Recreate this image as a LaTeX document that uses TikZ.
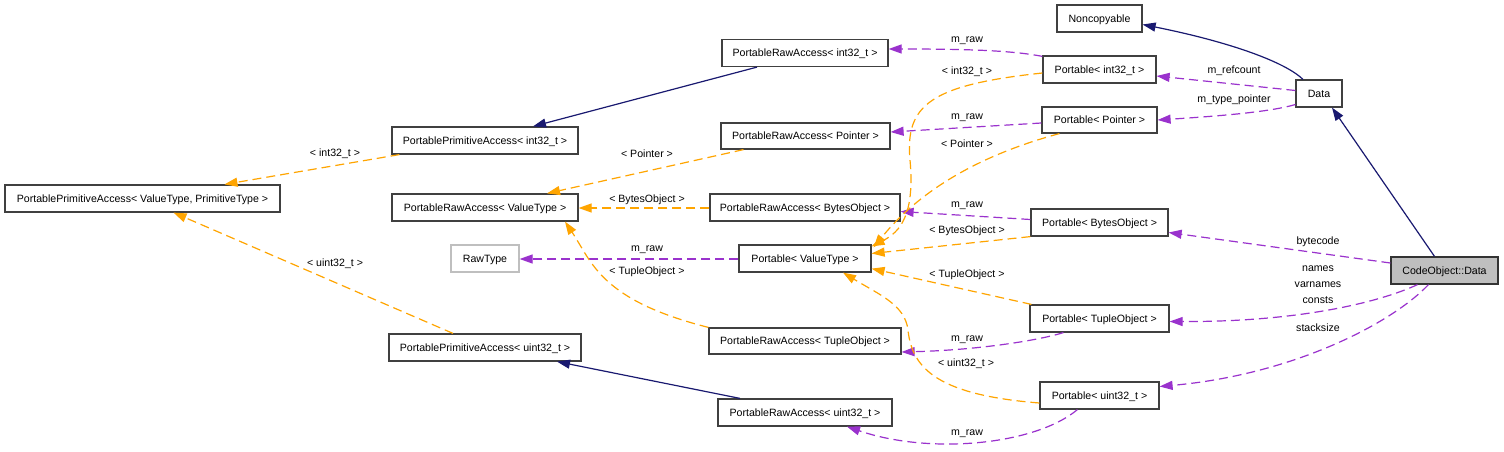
\documentclass[tikz,border=0pt]{standalone}
\usepackage{fontspec}
\setmainfont{Liberation Sans}
\usetikzlibrary{arrows.meta,calc}
\definecolor{dblue}{HTML}{191970}
\definecolor{dorange}{HTML}{FFA500}
\definecolor{dpurple}{HTML}{9A32CD}
\definecolor{dgrey}{HTML}{BFBFBF}
\tikzset{
  box/.style={draw=black!75, line width=1.2pt, inner sep=0pt, minimum height=27pt,
    font=\fontsize{10.6}{12}\selectfont, text height=7.6pt, text depth=0pt, fill=white},
  lbl/.style={inner sep=0pt, font=\fontsize{10.6}{12}\selectfont, text height=7.6pt, text depth=0pt},
  tipA/.style={-{Triangle[length=13pt,width=9pt]}},
  inh/.style={draw=dblue, line width=1.2pt, tipA},
  tmpl/.style={draw=dorange, line width=1.2pt, dash pattern=on 9pt off 5pt, tipA},
  usee/.style={draw=dpurple, line width=1.2pt, dash pattern=on 9pt off 5pt, tipA},
}
\begin{document}
\begin{tikzpicture}[x=1pt,y=-1pt]
\fill[white] (0,0) rectangle (1504,452);
\useasboundingbox (0,0) rectangle (1504,452);

% nodes
\node[box, minimum width=275pt] (ppavt) at (142.5,198.5) {PortablePrimitiveAccess< ValueType, PrimitiveType >};
\node[box, minimum width=186pt] (ppaint) at (485,140.5) {PortablePrimitiveAccess< int32\_t >};
\node[box, minimum width=166pt] (praint) at (805,53) {PortableRawAccess< int32\_t >};
\node[box, minimum width=169pt, minimum height=26pt] (prapt) at (805.5,136) {PortableRawAccess< Pointer >};
\node[box, minimum width=186pt] (pravt) at (485,207.5) {PortableRawAccess< ValueType >};
\node[box, minimum width=190pt] (prabo) at (805,207.5) {PortableRawAccess< BytesObject >};
\node[box, draw=dgrey, minimum width=68pt] (rawtype) at (485,258.5) {RawType};
\node[box, minimum width=132pt] (pvt) at (805,258.5) {Portable< ValueType >};
\node[box, minimum width=192pt, minimum height=26pt] (prato) at (805,341) {PortableRawAccess< TupleObject >};
\node[box, minimum width=192pt] (ppau) at (485,347.5) {PortablePrimitiveAccess< uint32\_t >};
\node[box, minimum width=174pt] (prau) at (805,412.5) {PortableRawAccess< uint32\_t >};
\node[box, minimum width=85pt] (noncp) at (1099.5,18.5) {Noncopyable};
\node[box, minimum width=113pt] (pint) at (1099.5,69.5) {Portable< int32\_t >};
\node[box, minimum width=46pt] (data) at (1319,93.5) {Data};
\node[box, minimum width=115pt, minimum height=26pt] (ppt) at (1099.5,120) {Portable< Pointer >};
\node[box, minimum width=137pt] (pbo) at (1099.5,222.5) {Portable< BytesObject >};
\node[box, minimum width=139pt] (pto) at (1099.5,318.5) {Portable< TupleObject >};
\node[box, minimum width=119pt] (pu) at (1099.5,395.5) {Portable< uint32\_t >};
\node[box, fill=dgrey, draw=black!80, minimum width=107pt] (cod) at (1444.5,270.5) {CodeObject::Data};

% inheritance
\draw[inh] ($(praint.south)+(-48,0)$) -- ($(ppaint.north)+(48,0)$);
\draw[inh] ($(data.north)+(-16,0)$) .. controls (1285,62) and (1230,42) .. ($(noncp.east)+(0,6)$);
\draw[inh] ($(cod.north)+(-10,0)$) -- ($(data.south)+(13,0)$);
\draw[inh] ($(prau.north)+(-65,0)$) -- ($(ppau.south)+(72,0)$);

% usage
\draw[usee] ($(pint.north west)+(0,1)$) .. controls (1010,50) and (960,49) .. ($(praint.east)+(0,-4)$);
\draw[usee] ($(data.west)+(0,-3)$) -- ($(pint.east)+(0,6.5)$);
\draw[usee] ($(data.west)+(0,11)$) .. controls (1270,112) and (1220,116) .. (ppt.east);
\draw[usee] ($(ppt.west)+(0,3)$) -- ($(prapt.east)+(0,-4)$);
\draw[usee] ($(pbo.west)+(0,-3)$) -- ($(prabo.east)+(0,4)$);
\draw[usee] ($(cod.west)+(0,-7.5)$) -- ($(pbo.east)+(0,10)$);
\draw[usee] ($(cod.south)+(-27,0)$) .. controls (1380,302) and (1300,322) .. ($(pto.east)+(0,3)$);
\draw[usee] ($(cod.south)+(-16,0)$) .. controls (1390,325) and (1290,375) .. ($(pu.east)+(0,-9)$);
\draw[usee] ($(pto.south west)+(34,0)$) .. controls (1040,340) and (980,350) .. ($(prato.east)+(0,11)$);
\draw[usee] ($(pu.south west)+(38,0)$) .. controls (1035,445) and (930,455) .. ($(prau.south)+(42,0)$);
\draw[usee] ($(pvt.west)+(0,0.5)$) -- ($(rawtype.east)+(0,0.5)$);

% template instances
\draw[tmpl] ($(ppaint.south west)+(8,0)$) -- ($(ppavt.north)+(82,0)$);
\draw[tmpl] ($(ppau.north)+(-32,0)$) -- ($(ppavt.south)+(31,0)$);
\draw[tmpl] ($(prapt.south)+(-62,0)$) -- ($(pravt.north)+(62,0)$);
\draw[tmpl] ($(prabo.west)+(0,0.5)$) -- ($(pravt.east)+(0,0.5)$);
\draw[tmpl] (prato.north west) .. controls (600,300) and (592,262) .. ($(pravt.south)+(80,0)$);
\draw[tmpl] ($(pint.west)+(0,3.5)$) .. controls (930,85) and (905,105) .. (910,160) .. controls (915,215) and (900,232) .. ($(pvt.north east)+(0,2)$);
\draw[tmpl] ($(ppt.south west)+(18,0)$) .. controls (980,155) and (920,190) .. ($(pvt.north east)+(2,3)$);
\draw[tmpl] (pbo.south west) -- ($(pvt.east)+(0,-5)$);
\draw[tmpl] ($(pto.north west)+(2,0)$) -- ($(pvt.south east)+(0,-4)$);
\draw[tmpl] ($(pu.west)+(0,7.5)$) .. controls (940,395) and (912,370) .. (908,330) .. controls (905,305) and (880,295) .. ($(pvt.south)+(38,0)$);

% labels
\node[lbl] (l1) at (967,39) {m\_raw};
\node[lbl] (l2) at (1234,70) {m\_refcount};
\node[lbl] (l3) at (1234,99) {m\_type\_pointer};
\node[lbl] (l4) at (967,116) {m\_raw};
\node[lbl] (l5) at (967,71) {< int32\_t >};
\node[lbl] (l6) at (967,144) {< Pointer >};
\node[lbl] (l7) at (967,204) {m\_raw};
\node[lbl] (l8) at (967,230) {< BytesObject >};
\node[lbl] (l9) at (1318,241) {bytecode};
\node[lbl] (l10) at (1318,268) {names};
\node[lbl] (l11) at (1318,284) {varnames};
\node[lbl] (l12) at (1318,300) {consts};
\node[lbl] (l13) at (1318,328) {stacksize};
\node[lbl] (l14) at (967,274) {< TupleObject >};
\node[lbl] (l15) at (967,338) {m\_raw};
\node[lbl] (l16) at (966,363) {< uint32\_t >};
\node[lbl] (l17) at (967,432) {m\_raw};
\node[lbl] (l18) at (647,248) {m\_raw};
\node[lbl] (l19) at (647,154) {< Pointer >};
\node[lbl] (l20) at (647,199) {< BytesObject >};
\node[lbl] (l21) at (647,271) {< TupleObject >};
\node[lbl] (l22) at (335,153) {< int32\_t >};
\node[lbl] (l23) at (335,263) {< uint32\_t >};
\end{tikzpicture}
\end{document}
